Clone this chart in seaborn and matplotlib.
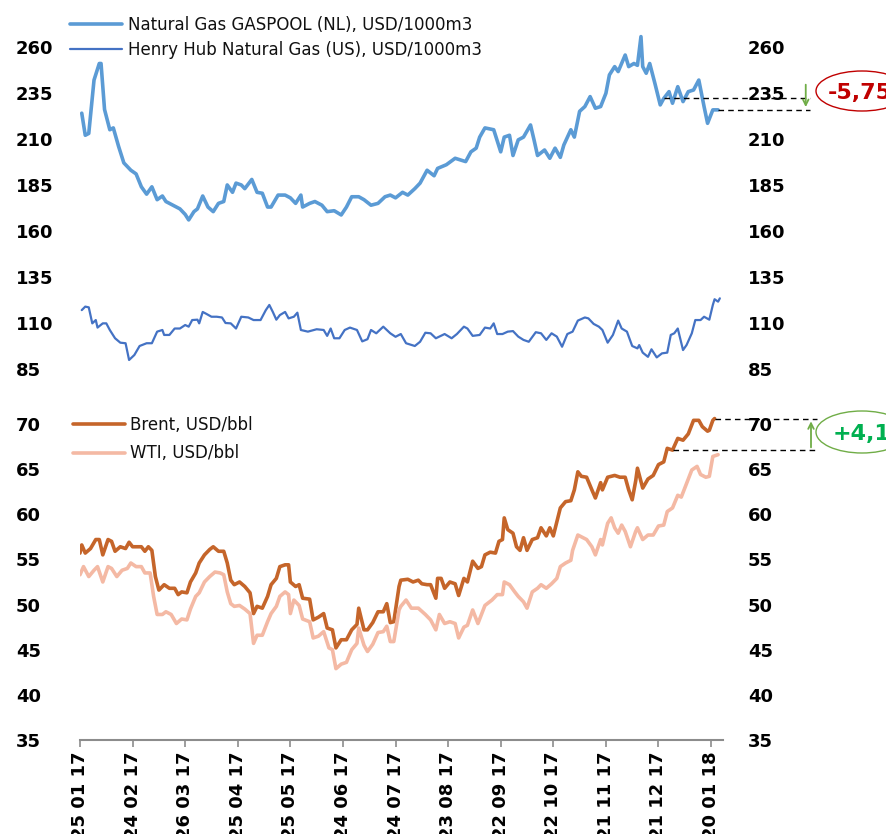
import matplotlib
matplotlib.use("Agg")
import matplotlib.pyplot as plt
from matplotlib.patches import Ellipse
import pandas as pd
import seaborn as sns

# days counted from 25.01.2017
gaspool_day = [1, 3, 5, 8, 11, 12, 14, 17, 19, 22, 25, 29, 32, 35, 38, 41, 44, 47, 49, 53,
               57, 60, 62, 65, 67, 70, 73, 76, 79, 82, 84, 87, 89, 92, 94, 98, 101, 104, 107, 109,
               113, 117, 120, 123, 126, 127, 131, 134, 138, 141, 145, 149, 152, 155, 159, 162, 166, 170, 174, 177,
               180, 184, 187, 191, 194, 198, 202, 204, 209, 214, 220, 223, 226, 228, 231, 236, 240, 242, 245, 247,
               250, 253, 257, 259, 261, 265, 268, 271, 274, 276, 280, 282, 285, 288, 291, 294, 297, 300, 302, 305,
               307, 311, 313, 316, 318, 320, 321, 323, 325, 328, 331, 333, 336, 338, 341, 344, 347, 350, 353, 356,
               358, 361, 364]
gaspool = [224, 212, 213, 242, 251, 251, 226, 215, 216, 206, 197, 193, 191, 184, 180, 184, 177, 179, 176, 174,
           172, 169, 166, 170.5, 172, 179, 173, 170.5, 175, 176, 185, 181, 186, 185, 183, 188, 181, 180.5, 173, 173,
           179.5, 179.5, 178, 175, 179.5, 173, 175, 176, 174, 170.5, 171, 168.7, 173, 178.6, 178.6, 177, 174, 175, 178.6, 179.5,
           178, 181, 179.5, 183, 186, 193, 190, 194, 196, 199.5, 197.7, 203, 205, 211, 216, 215, 203, 211, 212, 201,
           209.5, 211, 217.6, 209.5, 201, 204, 199.5, 205, 200, 206.7, 215, 211, 225, 227.6, 233, 226.7, 227.6, 234.8, 244.8, 249.3,
           246.6, 255.6, 249.3, 251, 250, 265.6, 249.3, 245.7, 251, 240, 228.5, 232, 235.7, 229.4, 238.4, 230.3, 235.7, 236.6, 242, 227.6,
           218.5, 225.8, 225.8]

henry_day = [1, 3, 5, 7, 9, 10, 13, 15, 17, 20, 23, 26, 28, 31, 34, 38, 41, 44, 47, 48,
             51, 54, 57, 60, 62, 64, 67, 68, 70, 72, 75, 78, 81, 83, 86, 89, 92, 96, 99, 103,
             106, 108, 110, 112, 114, 117, 119, 122, 124, 126, 130, 135, 139, 141, 143, 145, 148, 151, 154, 158,
             161, 164, 166, 169, 173, 177, 180, 183, 186, 191, 194, 197, 200, 203, 205, 208, 212, 215, 219, 221,
             224, 228, 231, 234, 236, 238, 241, 244, 247, 250, 253, 256, 260, 263, 266, 269, 272, 275, 278, 281,
             284, 288, 290, 293, 296, 298, 301, 304, 307, 309, 312, 315, 318, 319, 321, 324, 326, 329, 332, 335,
             337, 339, 341, 344, 346, 349, 351, 354, 356, 359, 361, 362, 364, 365]
henry = [117, 118.9, 118.5, 109.8, 111.6, 107.5, 109.8, 109.8, 106.2, 101.7, 99.3, 99, 89.9, 92.6, 97.5, 99, 99, 105.3, 106.2, 103.5,
         103.5, 107, 107, 108.9, 108, 111.6, 111.8, 109.8, 116, 115, 113.4, 113.4, 113, 110, 109.8, 107, 113.4, 113, 111.6, 111.6,
         117, 119.8, 116, 111.8, 114.3, 116, 112.5, 113.4, 115.6, 106.2, 105.3, 106.6, 106.2, 103, 107, 101.7, 101.7, 106.2, 107.5, 106.2,
         100, 101.2, 106.2, 104.4, 108, 104.4, 102.5, 104, 99, 97.5, 99.8, 104.7, 104.4, 101.7, 102.6, 104, 101.7, 104, 108, 107,
         103, 103.5, 107.5, 107, 109.8, 104, 104, 105.3, 105.6, 102.6, 100.8, 99.8, 105, 104.4, 100.8, 104.4, 102.6, 97.1, 104, 105.3,
         111.3, 113, 112.5, 109.5, 108, 106.2, 99.3, 103.5, 111.3, 107, 105.3, 97.5, 96.2, 98, 93.9, 91.6, 95.7, 91.3, 93.5, 93.9,
         103.5, 104.4, 107, 95.3, 98, 104.4, 111.6, 111.6, 113.4, 111.8, 119.8, 122.9, 121.6, 123.4]

brent_day = [0, 1, 3, 6, 9, 11, 13, 16, 18, 20, 23, 26, 28, 30, 35, 37, 39, 41, 43, 45,
             48, 51, 54, 56, 58, 61, 63, 66, 68, 71, 74, 76, 79, 82, 84, 86, 88, 91, 94, 97,
             99, 101, 104, 107, 109, 112, 114, 117, 119, 120, 123, 125, 127, 131, 133, 136, 139, 141, 144, 146,
             149, 152, 155, 158, 159, 162, 164, 167, 170, 173, 175, 177, 179, 182, 183, 187, 190, 193, 195, 198,
             200, 203, 204, 206, 208, 211, 214, 216, 219, 221, 224, 227, 229, 231, 234, 237, 239, 241, 242, 244,
             247, 249, 251, 253, 255, 258, 261, 263, 266, 268, 270, 274, 277, 280, 282, 284, 286, 289, 292, 294,
             297, 298, 301, 305, 308, 311, 313, 315, 317, 318, 321, 324, 327, 330, 333, 335, 338, 341, 344, 347,
             350, 353, 355, 358, 359, 361, 362]
brent = [55.7, 56.6, 55.7, 56.2, 57.2, 57.2, 55.5, 57.2, 57.0, 55.9, 56.4, 56.2, 56.9, 56.4, 56.4, 55.9, 56.4, 56.0, 53.1, 51.6,
         52.2, 51.8, 51.8, 51.1, 51.4, 51.3, 52.5, 53.5, 54.6, 55.5, 56.1, 56.4, 55.9, 55.9, 54.6, 52.7, 52.2, 52.5, 52.0, 51.3,
         49.0, 49.8, 49.6, 50.9, 52.2, 52.9, 54.2, 54.4, 54.4, 52.5, 52.0, 52.2, 50.7, 50.6, 48.3, 48.6, 49.0, 47.4, 47.2, 45.2,
         46.1, 46.1, 47.2, 47.8, 49.6, 47.2, 47.2, 48.0, 49.2, 49.2, 50.1, 48.0, 48.1, 52.0, 52.7, 52.8, 52.5, 52.7, 52.3, 52.2,
         52.2, 50.7, 52.9, 52.9, 51.8, 52.5, 52.3, 51.0, 52.9, 52.5, 54.8, 54.0, 54.2, 55.5, 55.8, 55.7, 57.0, 57.2, 59.6, 58.3,
         57.9, 56.4, 56.0, 57.4, 56.0, 57.2, 57.4, 58.5, 57.6, 58.5, 57.6, 60.7, 61.4, 61.5, 62.7, 64.7, 64.2, 64.1, 62.7, 61.8,
         63.5, 62.7, 64.1, 64.3, 64.1, 64.1, 62.7, 61.6, 63.7, 65.1, 62.9, 63.9, 64.3, 65.5, 65.8, 67.3, 67.1, 68.4, 68.2, 68.9,
         70.4, 70.4, 69.7, 69.2, 69.3, 70.4, 70.6]

wti_day = [0, 2, 5, 8, 10, 13, 16, 18, 21, 24, 27, 29, 32, 35, 37, 40, 42, 44, 47, 49,
           52, 55, 58, 61, 63, 66, 68, 71, 74, 77, 80, 82, 84, 86, 88, 91, 94, 97, 99, 101,
           104, 107, 109, 112, 114, 117, 119, 120, 122, 125, 127, 131, 133, 136, 139, 142, 144, 146, 149, 152,
           155, 158, 159, 162, 164, 167, 170, 173, 175, 177, 179, 182, 183, 186, 189, 193, 197, 200, 203, 205,
           208, 211, 214, 216, 219, 221, 224, 227, 231, 235, 238, 241, 242, 245, 248, 250, 253, 255, 258, 261,
           263, 266, 269, 272, 274, 277, 280, 281, 284, 286, 289, 292, 294, 297, 298, 301, 303, 305, 307, 309,
           311, 314, 317, 318, 321, 324, 327, 330, 333, 335, 338, 341, 343, 346, 349, 352, 354, 357, 359, 361,
           364]
wti = [53.3, 54.2, 53.1, 53.8, 54.2, 52.5, 54.2, 54.0, 53.1, 53.8, 54.0, 54.6, 54.2, 54.2, 53.5, 53.5, 50.9, 48.9, 48.9, 49.2,
       48.9, 47.9, 48.4, 48.3, 49.5, 50.9, 51.3, 52.5, 53.1, 53.6, 53.5, 53.3, 51.4, 50.1, 49.8, 49.9, 49.5, 49.0, 45.7, 46.6,
       46.6, 48.1, 49.0, 49.8, 50.9, 51.4, 51.1, 49.0, 50.5, 49.9, 48.4, 48.1, 46.3, 46.5, 47.0, 45.2, 45.0, 42.9, 43.4, 43.6,
       45.0, 45.7, 47.4, 45.5, 44.8, 45.6, 46.9, 47.0, 47.6, 45.9, 45.9, 49.4, 49.8, 50.5, 49.6, 49.6, 48.9, 48.3, 47.2, 48.9,
       47.9, 48.1, 47.9, 46.3, 47.5, 47.7, 49.4, 47.9, 49.9, 50.5, 51.1, 51.1, 52.5, 52.2, 51.4, 50.9, 50.3, 49.6, 51.4, 51.8,
       52.2, 51.8, 52.3, 52.9, 54.2, 54.6, 54.9, 56.0, 57.7, 57.5, 57.2, 56.4, 55.5, 57.2, 56.6, 59.0, 59.6, 58.5, 57.9, 58.8,
       58.1, 56.4, 58.1, 58.5, 57.2, 57.7, 57.7, 58.7, 58.8, 60.3, 60.7, 62.1, 61.9, 63.4, 64.9, 65.3, 64.4, 64.1, 64.2, 66.4,
       66.6]

start_date = "2017-01-25"
tick_days = [0, 30, 60, 90, 120, 150, 180, 210, 240, 270, 300, 330, 360]
gas_ticks = [85, 110, 135, 160, 185, 210, 235, 260]
oil_ticks = [35, 40, 45, 50, 55, 60, 65, 70]
gas_change = "-5,75"
oil_change = "+4,1"
gas_ref_day = 333
oil_ref_day = 338

C_GASPOOL = "#5B9BD5"
C_HENRY = "#4472C4"
C_BRENT = "#C5652A"
C_WTI = "#F4B9A4"

sns.set_style("white")
plt.rcParams["font.family"] = ["DejaVu Sans"]
plt.rcParams["text.color"] = "black"
plt.rcParams["ytick.color"] = "black"
plt.rcParams["xtick.color"] = "black"

W, H = 887, 834
fig = plt.figure(figsize=(W / 100, H / 100), dpi=100)
x0, x1 = 80 / W, 723 / W
ax_gas = fig.add_axes([x0, 1 - 369 / H, x1 - x0, 369 / H])
ax_oil = fig.add_axes([x0, 1 - 740 / H, x1 - x0, 350 / H])
xlim = (0, 366.8)


def style_y(ax, ticks, lim):
    ax.set_xlim(*xlim)
    ax.set_ylim(*lim)
    ax.set_yticks(ticks)
    ax.set_yticklabels([str(t) for t in ticks], fontsize=13, fontweight="bold", color="black")
    ax.tick_params(axis="y", length=0, pad=46)
    for lab in ax.get_yticklabels():
        lab.set_ha("left")
    for s in ax.spines.values():
        s.set_visible(False)
    r = ax.twinx()
    r.set_ylim(*lim)
    r.set_yticks(ticks)
    r.set_yticklabels([str(t) for t in ticks], fontsize=13, fontweight="bold", color="black")
    r.tick_params(axis="y", length=0, pad=18)
    for s in r.spines.values():
        s.set_visible(False)
    return r


# gas panel
sns.lineplot(x=gaspool_day, y=gaspool, ax=ax_gas, color=C_GASPOOL, linewidth=2.6,
             label="Natural Gas GASPOOL (NL), USD/1000m3")
sns.lineplot(x=henry_day, y=henry, ax=ax_gas, color=C_HENRY, linewidth=1.6,
             label="Henry Hub Natural Gas (US), USD/1000m3")
style_y(ax_gas, gas_ticks, (85, 285.5))
ax_gas.set_xticks([])
ax_gas.set_xlabel("")
ax_gas.legend(loc="upper left", bbox_to_anchor=(70 / W, 1 - 16 / H), bbox_transform=fig.transFigure,
              frameon=False, fontsize=12, handlelength=3.1, handletextpad=0.35, labelspacing=0.42,
              borderpad=0, borderaxespad=0, labelcolor="#111111")

# oil panel
sns.lineplot(x=brent_day, y=brent, ax=ax_oil, color=C_BRENT, linewidth=2.6, label="Brent, USD/bbl")
sns.lineplot(x=wti_day, y=wti, ax=ax_oil, color=C_WTI, linewidth=2.6, label="WTI, USD/bbl")
style_y(ax_oil, oil_ticks, (35, 73.76))
ax_oil.spines["bottom"].set_visible(True)
ax_oil.spines["bottom"].set_color("#8C8C8C")
ax_oil.spines["bottom"].set_linewidth(1.5)
dates = pd.to_datetime(start_date) + pd.to_timedelta(tick_days, unit="D")
ax_oil.set_xticks(tick_days)
ax_oil.set_xticklabels([d.strftime("%d %m %y") for d in dates], rotation=90,
                       fontsize=13, fontweight="bold", va="top", color="black")
ax_oil.tick_params(axis="x", bottom=True, length=5, width=1.2, color="#8C8C8C", pad=3)
ax_oil.set_xlabel("")
ax_oil.legend(loc="upper left", bbox_to_anchor=(73 / W, 1 - 416 / H), bbox_transform=fig.transFigure,
              frameon=False, fontsize=12, handlelength=3.1, handletextpad=0.35, labelspacing=0.62,
              borderpad=0, borderaxespad=0, labelcolor="#111111")

# month-on-month change markers
g_ref = gaspool[gaspool_day.index(gas_ref_day)]
g_last = gaspool[-1]
ax_gas.plot([gas_ref_day, 416.5], [g_ref, g_ref], ls=(0, (4, 3)), color="black", lw=1, clip_on=False)
ax_gas.plot([gaspool_day[-1], 416.5], [g_last, g_last], ls=(0, (4, 3)), color="black", lw=1, clip_on=False)
ax_gas.annotate("", xy=(414, g_last), xytext=(414, g_ref + 9), annotation_clip=False,
                arrowprops=dict(arrowstyle="->", color="#70AD47", lw=1.3))

o_ref = brent[brent_day.index(oil_ref_day)]
o_last = brent[-1]
ax_oil.plot([brent_day[-1], 420.5], [o_last, o_last], ls=(0, (4, 3)), color="black", lw=1, clip_on=False)
ax_oil.plot([oil_ref_day, 420.5], [o_ref, o_ref], ls=(0, (4, 3)), color="black", lw=1, clip_on=False)
ax_oil.annotate("", xy=(417, o_last), xytext=(417, o_ref), annotation_clip=False,
                arrowprops=dict(arrowstyle="->", color="#70AD47", lw=1.3))

fig.patches.append(Ellipse((862 / W, 1 - 91 / H), 92 / W, 40 / H, transform=fig.transFigure,
                           fill=False, edgecolor="#C00000", lw=1))
fig.text(828 / W, 1 - 93 / H, gas_change, color="#C00000", fontsize=16, fontweight="bold",
         ha="left", va="center")
fig.patches.append(Ellipse((862 / W, 1 - 432 / H), 92 / W, 42 / H, transform=fig.transFigure,
                           fill=False, edgecolor="#70AD47", lw=1))
fig.text(833 / W, 1 - 434 / H, oil_change, color="#00B050", fontsize=16, fontweight="bold",
         ha="left", va="center")

fig.savefig("out.png", dpi=100)
